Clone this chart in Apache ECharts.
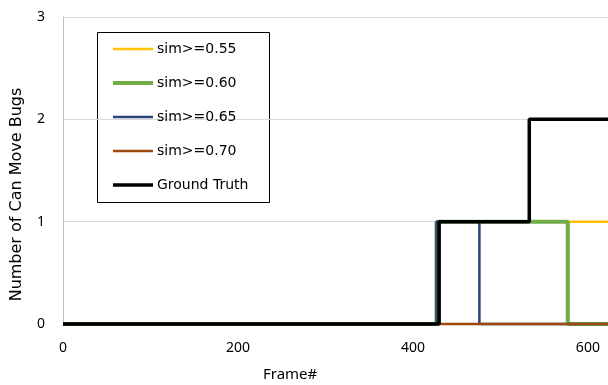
<!DOCTYPE html>
<html><head><meta charset="utf-8">
<script src="https://cdn.jsdelivr.net/npm/echarts@6/dist/echarts.min.js"></script>
<style>html,body{margin:0;padding:0;background:#fff}#c{width:608px;height:385px}</style>
</head><body><div id="c"></div>
<script>
const xTicks = [0, 200, 400, 600];
const yTicks = [0, 1, 2, 3];
const seriesNames = ['sim>=0.55', 'sim>=0.60', 'sim>=0.65', 'sim>=0.70', 'Ground Truth'];
const sim055Frames = [0, 427, 427, 623];
const sim055Values = [0, 0, 1, 1];
const sim060Frames = [0, 427, 427, 577, 577, 623];
const sim060Values = [0, 0, 1, 1, 0, 0];
const sim065Frames = [0, 427, 427, 476, 476, 623];
const sim065Values = [0, 0, 1, 1, 0, 0];
const sim070Frames = [0, 623];
const sim070Values = [0, 0];
const gtFrames = [0, 430, 430, 533, 533, 623];
const gtValues = [0, 0, 1, 1, 2, 2];

const colors = ['#FFC000', '#70AD47', '#264478', '#9E480E', '#000000'];
const widths = [2.5, 4, 2.5, 2.5, 3.5];
const allFrames = [sim055Frames, sim060Frames, sim065Frames, sim070Frames, gtFrames];
const allValues = [sim055Values, sim060Values, sim065Values, sim070Values, gtValues];
const FONT = 'Noto Sans';

const chart = echarts.init(document.getElementById('c'), null, {renderer: 'canvas'});
chart.setOption({
  backgroundColor: '#fff',
  animation: false,
  grid: {left: 63, top: 17, right: 0, bottom: 61, containLabel: false, outerBoundsMode: 'none'},
  xAxis: {
    type: 'value', min: 0, max: 623, interval: 200,
    axisLine: {show: true, lineStyle: {color: '#bfbfbf'}},
    axisTick: {show: false},
    splitLine: {show: false},
    axisLabel: {showMaxLabel: false, color: '#000', fontFamily: FONT, fontSize: 14, margin: 17}
  },
  yAxis: {
    type: 'value', min: 0, max: 3, interval: 1,
    name: 'Number of Can Move Bugs', nameLocation: 'middle', nameGap: 38,
    nameTextStyle: {color: '#000', fontFamily: 'DejaVu Sans', fontSize: 16, padding: [0, 48, 0, 0]},
    axisLine: {show: true, lineStyle: {color: '#bfbfbf', width: 1}},
    axisTick: {show: false},
    splitLine: {show: true, lineStyle: {color: '#d9d9d9', width: 1}},
    axisLabel: {color: '#000', fontFamily: FONT, fontSize: 14, margin: 18}
  },
  legend: {
    orient: 'vertical', left: 113, top: 42, padding: 0,
    itemWidth: 40, itemHeight: 14, itemGap: 20, symbolKeepAspect: true,
    textStyle: {color: '#000', fontFamily: 'DejaVu Sans', fontSize: 14, lineHeight: 14, padding: [0,0,0,-1]},
    data: seriesNames.map((n, i) => ({
      name: n,
      icon: 'path://M0,0H40V' + widths[i] + 'H0Z',
      itemStyle: {color: colors[i], borderWidth: 0}
    }))
  },
  graphic: [
    {type: 'rect', left: 97, top: 32, z: -1, shape: {width: 172, height: 170}, style: {fill: '#fff', stroke: '#000', lineWidth: 1}},
    {type: 'text', left: 263, top: 367, style: {text: 'Frame#', fill: '#000', font: '15px "Noto Sans"'}}
  ],
  series: seriesNames.map((n, i) => ({
    name: n, type: 'line', symbol: 'none', clip: false,
    lineStyle: {color: colors[i], width: widths[i]},
    itemStyle: {color: colors[i]},
    z: 2 + i,
    data: allFrames[i].map((f, k) => [f, allValues[i][k]])
  }))
});
</script></body></html>
